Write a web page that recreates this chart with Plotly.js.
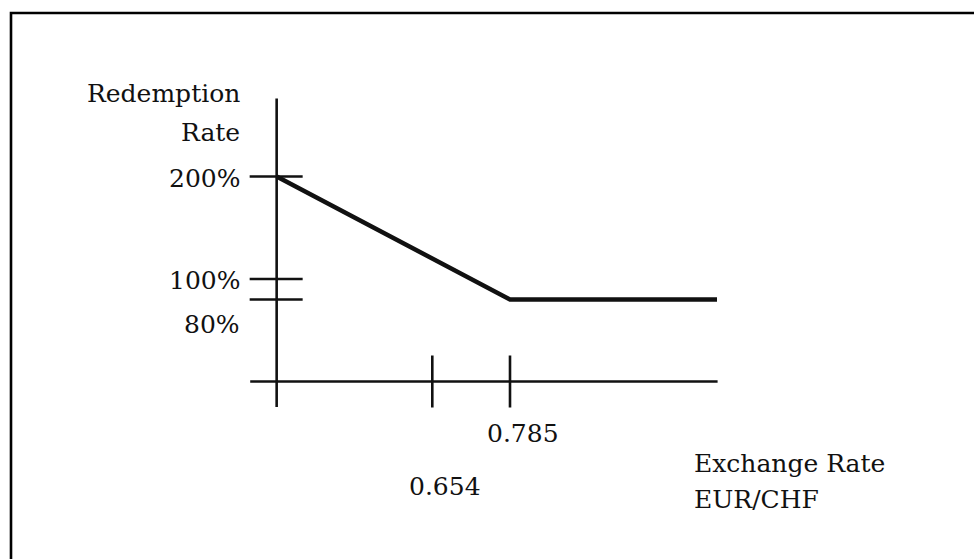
<!DOCTYPE html>
<html>
<head>
<meta charset="utf-8">
<script src="https://cdn.plot.ly/plotly-3.0.1.min.js"></script>
<style>html,body{margin:0;padding:0;background:#fff;}#chart{width:974px;height:559px;}</style>
</head>
<body>
<div id="chart"></div>
<script>
// ---- data ----
var payoffX = [0.3916, 0.785, 1.134];      // exchange rate EUR/CHF
var payoffY = [200, 80, 80];               // redemption rate, %
var xTickValues = [0.654, 0.785];
var xTickLabels = ['0.654', '0.785'];
var yTickValues = [200, 100, 80];
var yTickLabels = ['200%', '100%', '80%'];
var xAxisSpan = [0.347, 1.135];           // horizontal axis extent
var yAxisSpan = [-25, 276];               // vertical axis extent
var xOrigin = 0.3916;                     // where the vertical axis stands
var yOrigin = 0;                          // where the horizontal axis stands

var W = 974, H = 559;
function px(x) { return x / W; }
function py(y) { return 1 - y / H; }

var FONT = {family: 'DejaVu Serif, serif', size: 25, color: '#111'};

var traces = [
  {x: [xOrigin, xOrigin], y: yAxisSpan, mode: 'lines', line: {color: '#111', width: 2.6}, hoverinfo: 'skip'},
  {x: xAxisSpan, y: [yOrigin, yOrigin], mode: 'lines', line: {color: '#111', width: 2.6}, hoverinfo: 'skip'},
  {x: payoffX, y: payoffY, mode: 'lines', line: {color: '#111', width: 4.5}, hoverinfo: 'skip'}
];

var shapes = [];
yTickValues.forEach(function (v) {
  shapes.push({type: 'line', xref: 'x', yref: 'y', xsizemode: 'pixel', xanchor: xOrigin,
    x0: -27, x1: 26, y0: v, y1: v, line: {color: '#111', width: 2.6}});
});
xTickValues.forEach(function (v) {
  shapes.push({type: 'line', xref: 'x', yref: 'y', ysizemode: 'pixel', yanchor: yOrigin,
    y0: -26, y1: 26, x0: v, x1: v, line: {color: '#111', width: 2.6}});
});
// outer frame (top and left edges)
shapes.push({type: 'path', xref: 'paper', yref: 'paper',
  path: 'M ' + px(11) + ',0 L ' + px(11) + ',' + py(13) + ' L 1.01,' + py(13),
  line: {color: '#000', width: 2.6}});

var annotations = [];
var yShift = [-2, -1, -25];
yTickValues.forEach(function (v, i) {
  annotations.push({x: xOrigin, y: v, xref: 'x', yref: 'y', text: yTickLabels[i], showarrow: false,
    xanchor: 'right', yanchor: 'middle', xshift: -35, yshift: yShift[i], font: FONT});
});
var xYShift = [-104.5, -51.5];
xTickValues.forEach(function (v, i) {
  annotations.push({x: v, y: yOrigin, xref: 'x', yref: 'y', text: xTickLabels[i], showarrow: false,
    xanchor: 'center', yanchor: 'middle', xshift: 13, yshift: xYShift[i], font: FONT});
});
annotations.push({x: px(242), y: py(93.5), xref: 'paper', yref: 'paper', text: 'Redemption',
  showarrow: false, xanchor: 'right', yanchor: 'middle', font: FONT});
annotations.push({x: px(242), y: py(132.5), xref: 'paper', yref: 'paper', text: 'Rate',
  showarrow: false, xanchor: 'right', yanchor: 'middle', font: FONT});
annotations.push({x: px(692), y: py(463), xref: 'paper', yref: 'paper', text: 'Exchange Rate',
  showarrow: false, xanchor: 'left', yanchor: 'middle', font: FONT});
annotations.push({x: px(692), y: py(499.5), xref: 'paper', yref: 'paper', text: 'EUR/CHF',
  showarrow: false, xanchor: 'left', yanchor: 'middle', font: FONT});

// pixel calibration: 0.654 -> 432.3px, 0.785 -> 510px ; 0% -> 381.5px, 100% -> 279px
var pxPerX = (510 - 432.3) / (0.785 - 0.654);
var x0 = 0.654 - 432.3 / pxPerX;
var pxPerY = (381.5 - 279) / 100;
var layout = {
  width: W, height: H, autosize: false,
  margin: {l: 0, r: 0, t: 0, b: 0, pad: 0},
  paper_bgcolor: '#fff', plot_bgcolor: '#fff',
  showlegend: false,
  xaxis: {visible: false, range: [x0, x0 + W / pxPerX], autorange: false, fixedrange: true},
  yaxis: {visible: false, range: [-(H - 381.5) / pxPerY, 381.5 / pxPerY], autorange: false, fixedrange: true},
  shapes: shapes,
  annotations: annotations
};
Plotly.newPlot('chart', traces, layout, {staticPlot: true, displayModeBar: false});
</script>
</body>
</html>
